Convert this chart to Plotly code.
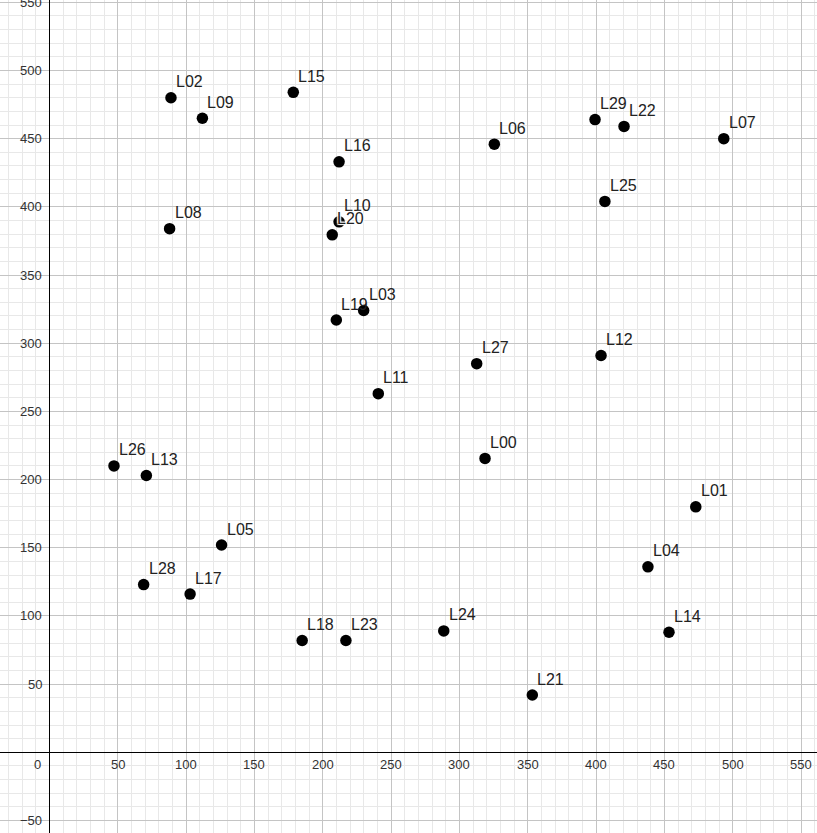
import plotly.graph_objects as go

labels = ["L00", "L01", "L02", "L03", "L04", "L05", "L06", "L07", "L08", "L09",
          "L10", "L11", "L12", "L13", "L14", "L15", "L16", "L17", "L18", "L19",
          "L20", "L21", "L22", "L23", "L24", "L25", "L26", "L27", "L28", "L29"]
xs = [318.8, 473.0, 89.0, 230.0, 438.0, 126.0, 325.6, 493.5, 88.0, 112.0,
      212.0, 240.7, 403.7, 71.0, 453.4, 178.5, 212.0, 103.0, 185.0, 210.0,
      207.0, 353.4, 420.5, 217.0, 288.6, 406.5, 47.3, 312.7, 69.0, 399.3]
ys = [215.5, 180.0, 480.0, 324.0, 136.0, 152.0, 446.0, 450.0, 384.0, 465.0,
      389.0, 263.0, 291.0, 203.0, 88.0, 484.0, 433.0, 116.0, 82.0, 317.0,
      379.5, 42.0, 459.0, 82.0, 89.0, 404.0, 210.0, 285.0, 123.0, 464.0]

x_ticks = [50, 100, 150, 200, 250, 300, 350, 400, 450, 500, 550]
y_ticks = [-50, 50, 100, 150, 200, 250, 300, 350, 400, 450, 500, 550]

x_range = [-36.1, 561.7]
y_range = [-59.2, 551.7]

fig = go.Figure()
fig.add_trace(go.Scatter(
    x=xs, y=ys, mode="markers",
    marker=dict(size=11.5, color="#000000"),
    hoverinfo="skip", showlegend=False,
))

annotations = []
halo = "1px 1px 1px white, -1px -1px 1px white, 1px -1px 1px white, -1px 1px 1px white"
for lab, x, y in zip(labels, xs, ys):
    f = dict(family="Liberation Sans, Arial, sans-serif", size=16, color="#222222")
    if lab == "L20":
        f["shadow"] = halo
    annotations.append(dict(
        x=x, y=y, xref="x", yref="y", text=lab, showarrow=False,
        xanchor="left", yanchor="middle", xshift=3, yshift=16, font=f,
    ))

tick_font = dict(family="Liberation Sans, Arial, sans-serif", size=13, color="#333333")
for t in x_ticks:
    annotations.append(dict(x=t, y=0, xref="x", yref="y", text=str(t), showarrow=False,
                            xanchor="center", yanchor="top", yshift=-3, font=tick_font))
annotations.append(dict(x=0, y=0, xref="x", yref="y", text="0", showarrow=False,
                        xanchor="right", yanchor="top", xshift=-6, yshift=-3, font=tick_font))
for t in y_ticks:
    txt = str(t).replace("-", "\u2212")
    annotations.append(dict(x=0, y=t, xref="x", yref="y", text=txt, showarrow=False,
                            xanchor="right", yanchor="middle", xshift=-5, font=tick_font))

axis_common = dict(
    showgrid=True, gridcolor="#c4c4c4", gridwidth=1,
    dtick=50, tick0=0,
    minor=dict(dtick=10, showgrid=True, gridcolor="#e8e8e8", gridwidth=1),
    zeroline=True, zerolinecolor="#000000", zerolinewidth=1.3,
    showticklabels=False, ticks="", showline=False,
)
fig.update_layout(
    width=817, height=833,
    margin=dict(l=0, r=0, t=0, b=0),
    paper_bgcolor="white", plot_bgcolor="white",
    xaxis=dict(range=x_range, **axis_common),
    yaxis=dict(range=y_range, **axis_common),
    annotations=annotations,
    showlegend=False,
)
fig.write_html("out.html",
               config={"displayModeBar": False},
               post_script="document.body.style.margin='0';document.body.style.overflow='hidden';")
